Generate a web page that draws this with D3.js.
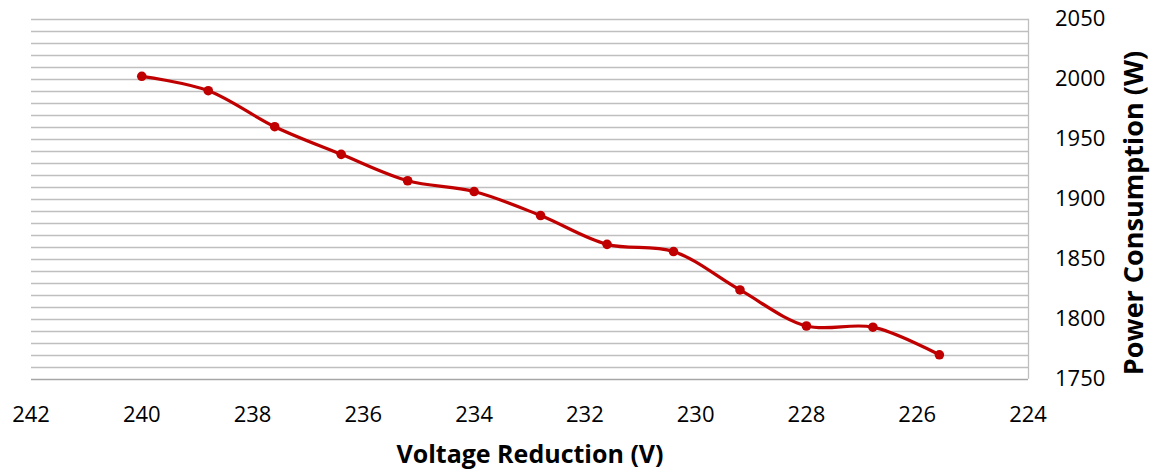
<!DOCTYPE html>
<meta charset="UTF-8">
<title>Power Consumption vs Voltage Reduction</title>
<style>
  body { margin: 0; background: #fff; }
  text { font-family: "Open Sans", sans-serif; fill: #000; }
</style>
<script src="https://d3js.org/d3.v7.min.js"></script>
<body>
<script>
  // data
  var voltage = [240, 238.8, 237.6, 236.4, 235.2, 234, 232.8, 231.6, 230.4, 229.2, 228, 226.8, 225.6];
  var power = [2002, 1990, 1960, 1937, 1915, 1906, 1886, 1862, 1856, 1824, 1794, 1793, 1770];
  var xTicks = [242, 240, 238, 236, 234, 232, 230, 228, 226, 224];
  var yTicks = [1750, 1800, 1850, 1900, 1950, 2000, 2050];

  var width = 1157, height = 474;

  var svg = d3.select("body").append("svg")
    .attr("width", width)
    .attr("height", height);

  var x = d3.scaleLinear().domain([242, 224]).range([31, 1028]);
  var y = d3.scaleLinear().domain([1750, 2050]).range([378.8, 18.7]);

  // minor gridlines every 10 W
  svg.append("g")
    .selectAll("line")
    .data(d3.range(1760, 2051, 10))
    .enter().append("line")
    .attr("x1", x(242))
    .attr("x2", x(224))
    .attr("y1", function(d) { return Math.round(y(d)) + 0.5; })
    .attr("y2", function(d) { return Math.round(y(d)) + 0.5; })
    .style("stroke", "#bfbfbf")
    .style("stroke-width", 1.3);

  // x axis line (bottom)
  svg.append("line")
    .attr("x1", x(242)).attr("x2", x(224))
    .attr("y1", Math.round(y(1750)) + 0.5).attr("y2", Math.round(y(1750)) + 0.5)
    .style("stroke", "#a6a6a6")
    .style("stroke-width", 1.5);

  // y axis line on the right
  svg.append("line")
    .attr("x1", Math.round(x(224)) + 0.5).attr("x2", Math.round(x(224)) + 0.5)
    .attr("y1", y(2050)).attr("y2", y(1750))
    .style("stroke", "#bfbfbf")
    .style("stroke-width", 1.3);

  // x tick labels
  svg.append("g")
    .selectAll("text")
    .data(xTicks)
    .enter().append("text")
    .attr("x", function(d) { return x(d); })
    .attr("y", 422)
    .attr("text-anchor", "middle")
    .style("font-size", "22px")
    .text(function(d) { return d; });

  // y tick labels
  svg.append("g")
    .selectAll("text")
    .data(yTicks)
    .enter().append("text")
    .attr("x", 1055)
    .attr("y", function(d) { return y(d) + 7.5; })
    .style("font-size", "22px")
    .text(function(d) { return d; });

  // axis titles
  svg.append("text")
    .attr("x", 530)
    .attr("y", 463)
    .attr("text-anchor", "middle")
    .style("font-size", "25px")
    .style("font-weight", "bold")
    .text("Voltage Reduction (V)");

  svg.append("text")
    .attr("transform", "translate(1143,213) rotate(-90)")
    .attr("text-anchor", "middle")
    .style("font-size", "27px")
    .style("font-weight", "bold")
    .text("Power Consumption (W)");

  // smoothed series line
  var line = d3.line()
    .x(function(d, i) { return x(voltage[i]); })
    .y(function(d) { return y(d); })
    .curve(d3.curveCatmullRom.alpha(0.5));

  svg.append("path")
    .datum(power)
    .attr("d", line)
    .style("fill", "none")
    .style("stroke", "#c00000")
    .style("stroke-width", 3.2);

  svg.append("g")
    .selectAll("circle")
    .data(power)
    .enter().append("circle")
    .attr("cx", function(d, i) { return x(voltage[i]); })
    .attr("cy", function(d) { return y(d); })
    .attr("r", 4.8)
    .style("fill", "#c00000");
</script>
</body>
